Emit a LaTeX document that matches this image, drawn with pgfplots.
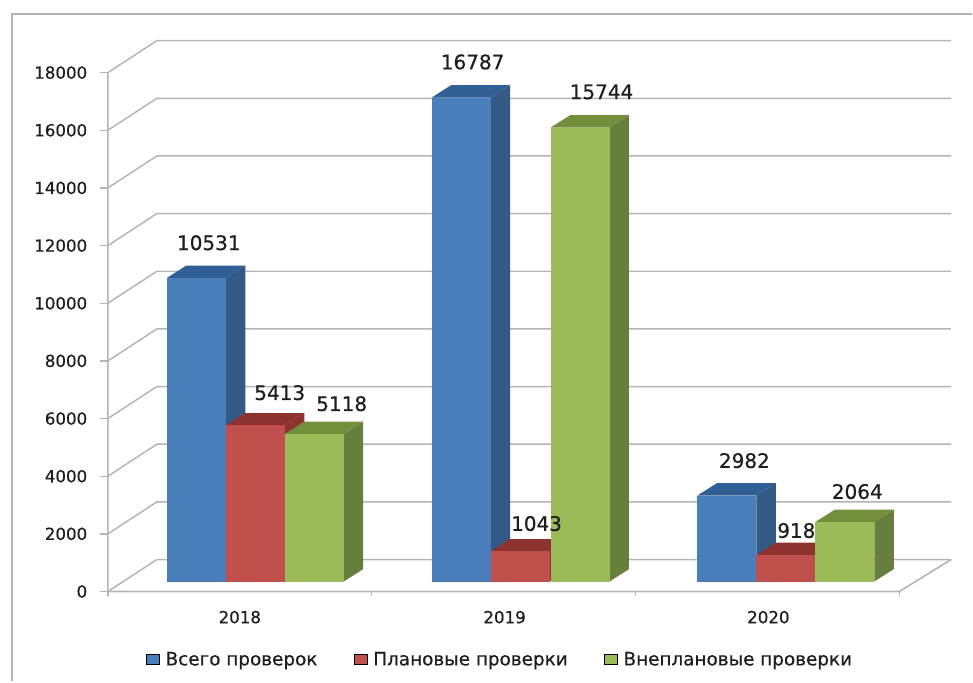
\documentclass[border=0pt]{standalone}
\usepackage{pgfplots}
\pgfplotsset{compat=1.18}
\usepackage{fontspec}
\setmainfont[FakeBold=0.6]{DejaVu Sans}

\definecolor{bluef}{HTML}{4A7EBB}
\definecolor{bluet}{HTML}{2F5F94}
\definecolor{blues}{HTML}{335A85}
\definecolor{redf}{HTML}{C0504D}
\definecolor{redt}{HTML}{8E3230}
\definecolor{reds}{HTML}{8E3230}
\definecolor{greenf}{HTML}{9BBB59}
\definecolor{greent}{HTML}{748F3C}
\definecolor{greens}{HTML}{667F3C}
\definecolor{gridc}{HTML}{B4B4B4}
\definecolor{inkc}{HTML}{1E1E1E}

% one px of the reference = 34.66 y units; bars stand 10 px behind the front edge
\newcommand{\cube}[3]{% left px, value, colour prefix
  \pgfmathsetmacro{\xa}{#1}
  \pgfmathsetmacro{\xb}{#1+59}
  \pgfmathsetmacro{\xc}{#1+78.5}
  \pgfmathsetmacro{\xd}{#1+19.5}
  \edef\ya{347}
  \edef\yb{\the\numexpr#2+347\relax}
  \edef\yc{\the\numexpr#2+777\relax}
  \edef\yd{777}
  \addplot[forget plot,draw=none,fill=#3s] coordinates {(\xb,\ya)(\xc,\yd)(\xc,\yc)(\xb,\yb)} --cycle;
  \addplot[forget plot,draw=none,fill=#3t] coordinates {(\xa,\yb)(\xb,\yb)(\xc,\yc)(\xd,\yc)} --cycle;
  \addplot[forget plot,draw=none,fill=#3f] coordinates {(\xa,\ya)(\xb,\ya)(\xb,\yb)(\xa,\yb)} --cycle;
}
\newcommand{\wall}[1]{%
  \edef\yw{\the\numexpr#1+1109\relax}
  \addplot[forget plot,draw=gridc,line width=1.1pt] coordinates {(108,#1)(157,\yw)(952,\yw)};
}

\begin{document}
\begin{tikzpicture}
\begin{axis}[
    scale only axis,
    width=633pt,
    height=414pt,
    xmin=108, xmax=952,
    ymin=0, ymax=19133,
    clip=false,
    axis line style={draw=none},
    xtick pos=bottom,
    ytick pos=left,
    ytick={0,2000,4000,6000,8000,10000,12000,14000,16000,18000},
    scaled y ticks=false,
    yticklabel style={/pgf/number format/fixed,/pgf/number format/1000 sep={},
        /pgf/number format/assume math mode=true,
        font=\fontsize{12.5pt}{14pt}\selectfont,text=inkc,xshift=-6pt},
    y tick style={draw=gridc,line width=1pt},
    tick align=outside,
    major tick length=6pt,
    xtick={240,505,769},
    xticklabels={2018,2019,2020},
    xticklabel style={font=\fontsize{12.5pt}{14pt}\selectfont,text=inkc,yshift=-5pt},
    x tick style={draw=none},
    minor xtick={108,372,636,900},
    minor x tick style={draw=gridc,line width=1pt},
    minor tick length=3pt,
    legend style={at={(axis cs:501,-2365)},anchor=center,draw=none,fill=none,
        legend columns=3,font=\fontsize{13.8pt}{15pt}\selectfont,text=inkc,
        /tikz/every even column/.append style={column sep=25.5pt},
        /tikz/every odd column/.append style={column sep=2.5pt},
        legend cell align=left},
    legend image code/.code={\fill[#1] (0pt,-3.8pt) rectangle (9.5pt,3.8pt);},
]
% page and frame
\path (axis cs:0,-3119) rectangle (axis cs:973,20519);
\addplot[forget plot,draw=gridc,line width=1.2pt] coordinates {(12,-3119)(12,20034)(973,20034)};

% walls and grid
\wall{0}\wall{2000}\wall{4000}\wall{6000}\wall{8000}
\wall{10000}\wall{12000}\wall{14000}\wall{16000}\wall{18000}
\addplot[forget plot,draw=gridc,line width=1.2pt] coordinates {(108,18000)(108,0)(900,0)(952,1109)};

% bars
\cube{167}{10531}{blue}
\cube{226}{5413}{red}
\cube{285}{5118}{green}
\cube{432}{16787}{blue}
\cube{491}{1043}{red}
\cube{551}{15744}{green}
\cube{698}{2982}{blue}
\cube{757}{918}{red}
\cube{816}{2064}{green}

% data labels
\begin{scope}[every node/.style={font=\fontsize{15pt}{16pt}\selectfont,text=inkc,inner sep=0pt}]
\node at (axis cs:209,12098) {10531};
\node at (axis cs:280,6897) {5413};
\node at (axis cs:342,6516) {5118};
\node at (axis cs:473,18370) {16787};
\node at (axis cs:537,2357) {1043};
\node at (axis cs:602,17330) {15744};
\node at (axis cs:745,4540) {2982};
\node at (axis cs:797,2115) {918};
\node at (axis cs:858,3466) {2064};
\end{scope}

\addlegendimage{fill=bluef}
\addlegendentry{Всего проверок}
\addlegendimage{fill=redf}
\addlegendentry{Плановые проверки}
\addlegendimage{fill=greenf}
\addlegendentry{Внеплановые проверки}
\end{axis}
\end{tikzpicture}
\end{document}
